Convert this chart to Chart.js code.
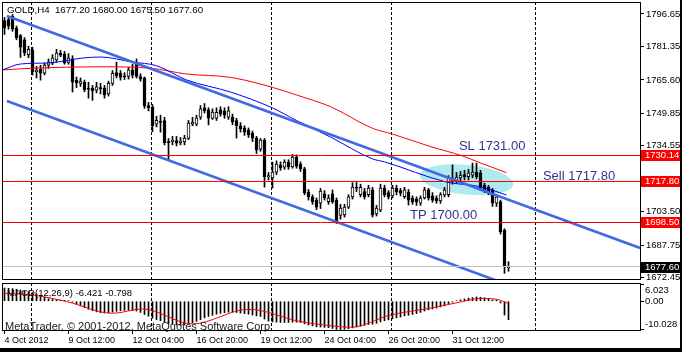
<!DOCTYPE html>
<html>
<head>
<meta charset="utf-8">
<script src="https://cdn.jsdelivr.net/npm/chart.js@4.4.1/dist/chart.umd.min.js"></script>
<style>
  html, body { margin: 0; padding: 0; background: #000; }
  #wrap { position: relative; width: 680px; height: 348px; background: #fff; overflow: hidden; }
  #price { position: absolute; left: 0; top: 0; }
  #macd  { position: absolute; left: 0; top: 282px; }
</style>
</head>
<body>
<div id="wrap">
  <canvas id="price" width="680" height="282"></canvas>
  <canvas id="macd" width="680" height="66"></canvas>
</div>
<script>
// GOLD H4 candles, bar index 0 = 4 Oct 2012
const opens = [
  1793.5, 1794.0, 1795.5, 1790.0, 1786.5, 1784.5, 1777.5, 1779.7, 1769.5, 1770.8,
  1768.8, 1772.5, 1773.5, 1775.0, 1778.3, 1777.8, 1773.8, 1775.5, 1765.5, 1764.0,
  1764.5, 1761.4, 1761.8, 1760.8, 1762.0, 1761.8, 1759.0, 1764.0, 1769.0, 1768.7,
  1767.4, 1767.2, 1770.2, 1773.0, 1767.2, 1766.5, 1753.5, 1752.8, 1744.8, 1746.0,
  1746.5, 1736.6, 1736.5, 1737.0, 1736.0, 1736.4, 1738.0, 1744.8, 1744.8, 1748.0,
  1752.4, 1751.5, 1747.5, 1747.6, 1751.5, 1751.0, 1748.0, 1748.0, 1746.5, 1744.0,
  1743.0, 1742.0, 1740.6, 1738.2, 1733.0, 1737.3, 1720.0, 1719.5, 1722.2, 1725.5,
  1724.5, 1726.9, 1724.6, 1729.3, 1726.0, 1723.7, 1712.8, 1710.5, 1709.0, 1707.6,
  1711.9, 1708.3, 1712.0, 1709.0, 1701.8, 1702.0, 1705.7, 1710.5, 1715.1, 1711.5,
  1713.0, 1711.5, 1713.8, 1702.5, 1704.3, 1714.7, 1712.5, 1711.0, 1714.6, 1713.5,
  1710.6, 1712.8, 1710.0, 1709.5, 1707.6, 1710.0, 1713.8, 1711.0, 1709.8, 1708.6,
  1711.4, 1711.5, 1718.0, 1718.3, 1719.4, 1721.0, 1720.0, 1720.8, 1722.2, 1721.8,
  1716.0, 1715.0, 1713.8, 1707.6, 1708.2, 1694.9, 1677.2
];
const highs = [
  1795.0, 1795.2, 1796.4, 1791.0, 1787.0, 1785.5, 1781.5, 1781.0, 1772.0, 1772.5,
  1773.5, 1775.5, 1777.5, 1780.0, 1779.5, 1779.0, 1778.0, 1777.0, 1767.0, 1766.5,
  1765.5, 1764.5, 1763.0, 1764.5, 1764.0, 1763.0, 1765.0, 1770.0, 1774.0, 1770.0,
  1769.0, 1771.5, 1773.0, 1775.5, 1768.5, 1767.0, 1755.0, 1754.0, 1748.5, 1749.0,
  1748.0, 1738.0, 1739.0, 1739.0, 1738.5, 1739.5, 1746.5, 1748.0, 1749.0, 1753.5,
  1754.5, 1752.5, 1752.0, 1752.5, 1753.0, 1752.5, 1753.0, 1749.5, 1747.5, 1745.5,
  1744.0, 1743.0, 1741.5, 1739.0, 1738.0, 1738.0, 1722.0, 1726.9, 1727.5, 1727.0,
  1728.0, 1728.0, 1730.5, 1730.3, 1727.0, 1724.5, 1714.0, 1711.5, 1710.0, 1714.5,
  1713.5, 1711.5, 1713.8, 1710.0, 1707.0, 1707.0, 1711.5, 1717.2, 1717.3, 1716.5,
  1714.5, 1716.0, 1715.0, 1706.5, 1716.5, 1716.0, 1713.5, 1716.0, 1716.0, 1714.5,
  1715.0, 1714.0, 1711.0, 1710.5, 1711.0, 1715.0, 1714.5, 1712.5, 1711.0, 1712.5,
  1715.0, 1720.5, 1725.6, 1722.0, 1722.5, 1723.0, 1723.5, 1726.4, 1726.4, 1723.0,
  1717.0, 1716.0, 1714.5, 1711.5, 1709.0, 1695.5, 1680.0
];
const lows = [
  1787.0, 1789.5, 1788.5, 1784.5, 1776.2, 1777.0, 1776.0, 1767.9, 1766.5, 1765.5,
  1768.0, 1771.0, 1772.8, 1774.0, 1776.5, 1773.0, 1773.0, 1759.9, 1762.0, 1762.5,
  1760.0, 1757.0, 1756.0, 1759.5, 1759.0, 1757.0, 1758.0, 1763.0, 1766.5, 1765.5,
  1765.8, 1766.0, 1766.5, 1766.5, 1765.0, 1752.2, 1751.0, 1741.2, 1743.5, 1741.0,
  1735.0, 1727.9, 1735.0, 1734.5, 1735.0, 1735.0, 1737.5, 1744.0, 1744.0, 1747.0,
  1750.0, 1744.4, 1747.0, 1746.5, 1748.5, 1747.5, 1747.0, 1744.5, 1738.2, 1741.0,
  1739.5, 1738.5, 1736.5, 1731.0, 1732.0, 1715.1, 1718.5, 1714.7, 1721.0, 1723.0,
  1723.5, 1723.5, 1724.0, 1724.0, 1722.5, 1711.5, 1709.0, 1707.0, 1704.5, 1705.0,
  1709.0, 1707.0, 1707.5, 1698.0, 1700.0, 1701.0, 1705.0, 1709.5, 1713.0, 1710.5,
  1709.5, 1710.5, 1701.0, 1701.5, 1703.5, 1710.5, 1709.5, 1710.0, 1711.5, 1711.0,
  1709.8, 1706.7, 1707.0, 1706.5, 1706.5, 1709.5, 1709.0, 1708.0, 1707.5, 1707.5,
  1710.5, 1710.5, 1716.5, 1717.0, 1718.0, 1718.5, 1718.5, 1719.5, 1719.0, 1713.5,
  1712.5, 1711.5, 1706.0, 1706.0, 1693.0, 1674.5, 1675.5
];
const closes = [
  1790.0, 1791.0, 1789.6, 1785.5, 1781.0, 1778.3, 1780.0, 1769.5, 1770.2, 1768.8,
  1772.6, 1774.0, 1776.0, 1778.3, 1777.3, 1773.6, 1776.0, 1764.6, 1764.2, 1765.0,
  1761.0, 1761.2, 1760.5, 1762.4, 1761.4, 1758.5, 1764.0, 1768.7, 1767.6, 1766.8,
  1767.0, 1770.3, 1767.8, 1767.2, 1766.0, 1753.3, 1752.5, 1744.0, 1746.6, 1745.6,
  1736.0, 1736.0, 1737.3, 1735.8, 1736.8, 1738.2, 1745.3, 1745.8, 1747.7, 1752.0,
  1751.0, 1747.6, 1750.5, 1750.3, 1749.6, 1749.0, 1751.0, 1745.8, 1744.0, 1742.5,
  1741.0, 1739.8, 1738.2, 1732.6, 1737.3, 1719.9, 1720.5, 1722.2, 1726.0, 1724.2,
  1726.9, 1724.6, 1729.3, 1725.0, 1723.7, 1712.4, 1710.5, 1708.2, 1705.7, 1713.3,
  1710.0, 1710.0, 1708.2, 1698.7, 1705.3, 1705.7, 1710.5, 1715.1, 1714.6, 1715.0,
  1710.5, 1714.7, 1701.9, 1705.3, 1714.7, 1711.5, 1710.5, 1714.7, 1712.8, 1712.3,
  1713.8, 1709.0, 1708.2, 1708.2, 1710.0, 1713.8, 1710.0, 1709.0, 1708.6, 1711.6,
  1713.8, 1719.4, 1719.4, 1719.8, 1720.8, 1720.0, 1721.8, 1722.2, 1720.0, 1714.7,
  1713.8, 1712.8, 1707.6, 1710.5, 1694.0, 1677.5, 1677.6
];

// moving averages, read at sampled bars
const blueMaBars = [-0.5, 4, 11, 19.5, 24, 32, 38, 45.5, 56.5, 67, 73, 81.5, 92, 95, 110.5, 119, 125.5];
const blueMaVals = [1770.3, 1773.1, 1773.6, 1775.9, 1776.4, 1774.0, 1772.3, 1765.6, 1759.9, 1752.4, 1746.5, 1738.7, 1728.4, 1727.0, 1717.5, 1715.3, 1711.4];
const redMaBars = [-0.5, 7, 24, 36.5, 45.5, 56.5, 67, 73, 81.5, 92, 97, 106.5, 114.5, 119, 125.5];
const redMaVals = [1770.3, 1771.1, 1771.8, 1771.1, 1768.4, 1766.8, 1762.1, 1758.5, 1753.0, 1742.8, 1740.1, 1734.2, 1729.8, 1726.5, 1721.9];

// channel trendlines (bar, price at both ends)
const upperChannelBars = [0.6, 158.9];
const upperChannelVals = [1795.7, 1686.4];
const lowerChannelBars = [0.6, 158.9];
const lowerChannelVals = [1755.7, 1646.3];

// horizontal levels
const levelVals = [1730.14, 1717.80, 1698.50];
const bidVal = 1677.60;

// text objects on the chart
const noteTexts = ['SL 1731.00', 'Sell 1717.80', 'TP 1700.00'];
const noteBars = [113.6, 134.6, 101.4];
const notePrices = [1734.15, 1720.35, 1701.98];

// price axis ticks
const priceTicks = [1796.65, 1781.35, 1765.60, 1749.85, 1734.55, 1718.95, 1703.50, 1687.75, 1672.45];

// time axis
const dateTickBars = [0, 16, 32, 48, 64, 80, 96, 112];
const dateLabels = ['4 Oct 2012', '9 Oct 12:00', '12 Oct 04:00', '16 Oct 20:00', '19 Oct 12:00', '24 Oct 04:00', '26 Oct 20:00', '31 Oct 12:00'];
const gridBars = [6.75, 36.75, 66.75, 96.75, 132.75];

// MACD(12,26,9) main histogram per bar and signal line at sampled bars
const macdMain = [
   4.6,  4.5,  4.4,  4.2,  3.9,  3.6,  3.3,  3.0,  2.6,  2.0,
   1.4,  0.9,  0.6,  0.5,  0.4,  0.3,  0.2, -0.3, -0.9, -1.6,
  -2.2, -2.8, -3.3, -3.7, -4.0, -4.1, -4.0, -3.8, -3.5, -3.3,
  -3.2, -3.1, -3.2, -3.4, -3.9, -4.6, -5.2, -5.9, -6.4, -6.8,
  -7.3, -7.8, -8.1, -8.3, -8.4, -8.3, -8.0, -7.5, -7.0, -6.4,
  -5.8, -5.3, -4.9, -4.5, -4.2, -4.0, -3.8, -3.8, -3.9, -4.1,
  -4.3, -4.5, -4.8, -5.1, -5.3, -6.2, -6.9, -7.2, -7.3, -7.4,
  -7.4, -7.4, -7.3, -7.3, -7.4, -7.9, -8.3, -8.6, -8.9, -9.0,
  -9.1, -9.2, -9.5, -9.8, -9.9, -9.8, -9.6, -9.3, -9.0, -8.7,
  -8.4, -8.1, -8.0, -7.7, -7.2, -6.8, -6.5, -6.1, -5.8, -5.5,
  -5.1, -4.9, -4.6, -4.3, -3.9, -3.4, -3.0, -2.7, -2.4, -2.0,
  -1.6, -1.1, -0.3,  0.2,  0.5,  0.8,  1.1,  1.3,  1.5,  1.4,
   1.2,  0.9,  0.5,  0.4, -0.6, -4.8, -6.421
];
const signalBars = [-0.5, 7, 15.5, 27, 34.5, 47, 61, 74, 82, 86.5, 96.5, 106.5, 114.5, 119, 123, 126];
const signalVals = [2.8, 2.2, -0.1, -4.2, -2.7, -7.9, -2.8, -7.1, -8.6, -9.1, -4.8, -2.4, -0.1, 1.0, 0.7, -0.798];
const macdTicks = [6.023, 0, -10.028];
const macdTickLabels = ['6.023', '0.00', '-10.028'];

const FONT = "'Liberation Sans', Arial, sans-serif";
const CHANNEL = '#4169e1';
const X_MIN = -0.625, X_MAX = 159.125;

Chart.defaults.font.family = FONT;
Chart.defaults.color = '#000';

const pts = (xs, ys) => xs.map((x, i) => ({ x, y: ys[i] }));
const crisp = (v) => Math.floor(v) + 0.5;

function dashedGrid(chart) {
  const { ctx, chartArea: a, scales: { x } } = chart;
  ctx.save();
  ctx.strokeStyle = '#000';
  ctx.lineWidth = 1;
  ctx.setLineDash([3, 2]);
  gridBars.forEach((b) => {
    const px = crisp(x.getPixelForValue(b));
    ctx.beginPath();
    ctx.moveTo(px, a.top);
    ctx.lineTo(px, a.bottom);
    ctx.stroke();
  });
  ctx.restore();
}

function frame(chart) {
  const { ctx, chartArea: a } = chart;
  ctx.save();
  ctx.strokeStyle = '#000';
  ctx.lineWidth = 1;
  ctx.strokeRect(a.left + 0.5, a.top + 0.5, a.right - a.left - 1, a.bottom - a.top - 1);
  ctx.restore();
}

// keep the axis from reserving room for half-labels at the ends
const noLabelPad = (s) => { s.paddingTop = 0; s.paddingBottom = 0; s.paddingLeft = 0; s.paddingRight = 0; };

const priceDecor = {
  id: 'priceDecor',
  beforeDatasetsDraw(chart) {
    const { ctx, chartArea: a, scales: { x, y } } = chart;
    ctx.save();
    ctx.beginPath();
    ctx.rect(a.left, a.top, a.width, a.height);
    ctx.clip();
    // entry zone
    const cx = x.getPixelForValue(115.5);
    const cy = y.getPixelForValue(1718.6);
    const rx = x.getPixelForValue(115.5 + 11.75) - cx;
    const ry = y.getPixelForValue(1718.6 - 7.0) - cy;
    ctx.fillStyle = '#aeeaee';
    ctx.beginPath();
    ctx.ellipse(cx, cy, rx, ry, 0.1, 0, Math.PI * 2);
    ctx.fill();
    ctx.restore();
    dashedGrid(chart);
  },
  afterDatasetsDraw(chart) {
    const { ctx, chartArea: a, scales: { x, y } } = chart;
    ctx.save();
    ctx.lineWidth = 1;
    ctx.strokeStyle = '#c0c0c0';
    let py = crisp(y.getPixelForValue(bidVal));
    ctx.beginPath(); ctx.moveTo(a.left, py); ctx.lineTo(a.right, py); ctx.stroke();
    ctx.strokeStyle = '#ff0000';
    levelVals.forEach((v) => {
      py = crisp(y.getPixelForValue(v));
      ctx.beginPath(); ctx.moveTo(a.left, py); ctx.lineTo(a.right, py); ctx.stroke();
    });
    ctx.font = '13px ' + FONT;
    ctx.fillStyle = '#34348c';
    ctx.textBaseline = 'middle';
    ctx.textAlign = 'left';
    noteTexts.forEach((t, i) => {
      ctx.fillText(t, x.getPixelForValue(noteBars[i]), y.getPixelForValue(notePrices[i]));
    });
    ctx.restore();
  },
  afterDraw(chart) {
    const { ctx, chartArea: a, scales: { y } } = chart;
    frame(chart);
    ctx.save();
    ctx.font = '9.7px ' + FONT;
    ctx.textBaseline = 'middle';
    ctx.textAlign = 'left';
    ctx.fillStyle = '#000';
    ctx.fillText('GOLD,H4  1677.20 1680.00 1675.50 1677.60', 7, 10);
    ctx.font = '9.5px ' + FONT;
    const tag = (v, bg) => {
      const py = Math.round(y.getPixelForValue(v));
      ctx.fillStyle = bg;
      ctx.fillRect(a.right, py - 5, chart.width - a.right, 11);
      ctx.fillStyle = '#fff';
      ctx.fillText(v.toFixed(2), a.right + 4, py + 0.5);
    };
    levelVals.forEach((v) => tag(v, '#ff0000'));
    tag(bidVal, '#000');
    ctx.restore();
  }
};

new Chart(document.getElementById('price'), {
  type: 'bar',
  data: {
    datasets: [
      { type: 'line', data: pts(upperChannelBars, upperChannelVals), borderColor: CHANNEL, borderWidth: 2.6, pointRadius: 0, clip: 0, order: 0 },
      { type: 'line', data: pts(lowerChannelBars, lowerChannelVals), borderColor: CHANNEL, borderWidth: 2.6, pointRadius: 0, clip: 0, order: 0 },
      { type: 'line', data: pts(blueMaBars, blueMaVals), borderColor: '#0000ff', borderWidth: 1, pointRadius: 0, cubicInterpolationMode: 'monotone', clip: 0, order: 1 },
      { type: 'line', data: pts(redMaBars, redMaVals), borderColor: '#ff0000', borderWidth: 1, pointRadius: 0, cubicInterpolationMode: 'monotone', clip: 0, order: 1 },
      {
        type: 'bar',
        data: opens.map((o, i) => ({ x: i, y: [Math.min(o, closes[i]), Math.max(o, closes[i])] })),
        backgroundColor: (c) => (closes[c.dataIndex] >= opens[c.dataIndex] ? '#fff' : '#000'),
        borderColor: '#000',
        borderWidth: 1,
        borderSkipped: false,
        barThickness: 3,
        minBarLength: 1,
        grouped: false,
        order: 2
      },
      {
        type: 'bar',
        data: lows.map((l, i) => ({ x: i, y: [l, highs[i]] })),
        backgroundColor: '#000',
        barThickness: 1,
        grouped: false,
        order: 3
      }
    ]
  },
  options: {
    responsive: false,
    animation: false,
    events: [],
    layout: { padding: { left: 2, top: 2, right: 0, bottom: 2 } },
    plugins: { legend: { display: false }, tooltip: { enabled: false } },
    scales: {
      x: { type: 'linear', min: X_MIN, max: X_MAX, offset: false, display: false },
      y: {
        type: 'linear',
        position: 'right',
        min: 1671.37,
        max: 1802.30,
        afterFit: (s) => { s.width = 39; noLabelPad(s); },
        afterBuildTicks: (s) => { s.ticks = priceTicks.map((v) => ({ value: v })); },
        ticks: { autoSkip: false, padding: 2, font: { size: 9.5 }, color: '#000', callback: (v) => Number(v).toFixed(2) },
        grid: { drawOnChartArea: false, drawTicks: true, tickLength: 3, color: '#000' },
        border: { display: false }
      }
    }
  },
  plugins: [priceDecor]
});

const macdDecor = {
  id: 'macdDecor',
  beforeDatasetsDraw(chart) { dashedGrid(chart); },
  afterDatasetsDraw(chart) {
    const { ctx } = chart;
    ctx.save();
    ctx.fillStyle = '#000';
    ctx.textBaseline = 'middle';
    ctx.font = '9.5px ' + FONT;
    ctx.fillText('MACD(12,26,9) -6.421 -0.798', 7, 11.5);
    ctx.textBaseline = 'alphabetic';
    ctx.font = '11px ' + FONT;
    ctx.fillStyle = '#1a1a1a';
    ctx.fillText('MetaTrader, \u00a9 2001-2012, MetaQuotes Software Corp.', 5, 47.5);
    ctx.restore();
  },
  afterDraw(chart) {
    const { ctx, chartArea: a, scales: { y } } = chart;
    frame(chart);
    ctx.save();
    ctx.fillStyle = '#000';
    ctx.font = '9.5px ' + FONT;
    ctx.textBaseline = 'middle';
    macdTicks.forEach((v, i) => {
      const py = Math.min(Math.max(y.getPixelForValue(v), a.top + 7.5), a.bottom - 6.5);
      ctx.fillText(macdTickLabels[i], a.right + 4, py);
    });
    ctx.restore();
  }
};

new Chart(document.getElementById('macd'), {
  type: 'bar',
  data: {
    datasets: [
      { type: 'line', data: pts(signalBars, signalVals), borderColor: '#ff0000', borderWidth: 1, pointRadius: 0, cubicInterpolationMode: 'monotone', order: 0 },
      { type: 'bar', data: macdMain.map((v, i) => ({ x: i, y: v })), backgroundColor: '#000', barThickness: 1, grouped: false, order: 1 }
    ]
  },
  options: {
    responsive: false,
    animation: false,
    events: [],
    layout: { padding: { left: 2, top: 1, right: 0, bottom: 0 } },
    plugins: { legend: { display: false }, tooltip: { enabled: false } },
    scales: {
      x: {
        type: 'linear',
        min: X_MIN,
        max: X_MAX,
        offset: false,
        afterFit: (s) => { s.height = 17; noLabelPad(s); },
        afterBuildTicks: (s) => { s.ticks = dateTickBars.map((v) => ({ value: v })); },
        ticks: { autoSkip: false, maxRotation: 0, align: 'start', padding: 1, font: { size: 9 }, color: '#000', callback: (v, i) => dateLabels[i] },
        grid: { drawOnChartArea: false, drawTicks: true, tickLength: 3, color: '#000', offset: false },
        border: { display: false }
      },
      y: {
        type: 'linear',
        position: 'right',
        min: -10.377,
        max: 6.372,
        afterFit: (s) => { s.width = 39; noLabelPad(s); },
        afterBuildTicks: (s) => { s.ticks = macdTicks.map((v) => ({ value: v })); },
        ticks: { display: false },
        grid: { drawOnChartArea: false, drawTicks: true, tickLength: 3, color: '#000' },
        border: { display: false }
      }
    }
  },
  plugins: [macdDecor]
});
</script>
</body>
</html>
